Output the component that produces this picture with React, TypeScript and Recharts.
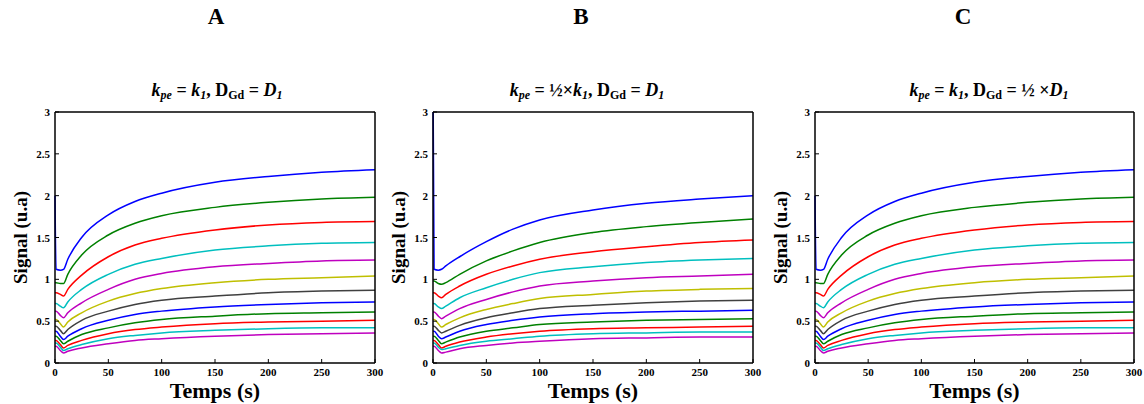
import React from "react"
import { Line, LineChart, XAxis, YAxis } from "recharts"

// time axis (s)
const times = [0, 1, 5, 8, 12, 25, 50, 75, 100, 150, 200, 250, 300]

// panel A (kpe = k1, DGd = D1)
const seriesA = [
  [2.0, 1.12, 1.11, 1.12, 1.24, 1.5, 1.77, 1.93, 2.03, 2.16, 2.23, 2.28, 2.31],
  [0.96, 0.96, 0.95, 0.95, 1.06, 1.29, 1.53, 1.67, 1.76, 1.86, 1.92, 1.96, 1.98],
  [0.84, 0.84, 0.82, 0.8, 0.88, 1.05, 1.27, 1.41, 1.49, 1.59, 1.65, 1.68, 1.69],
  [0.71, 0.71, 0.68, 0.66, 0.73, 0.88, 1.06, 1.18, 1.25, 1.35, 1.4, 1.43, 1.44],
  [0.62, 0.62, 0.57, 0.54, 0.6, 0.72, 0.88, 1.0, 1.07, 1.15, 1.19, 1.22, 1.23],
  [0.52, 0.52, 0.47, 0.43, 0.49, 0.6, 0.74, 0.83, 0.89, 0.96, 1.0, 1.02, 1.04],
  [0.44, 0.44, 0.39, 0.35, 0.4, 0.51, 0.62, 0.7, 0.75, 0.8, 0.84, 0.86, 0.87],
  [0.38, 0.38, 0.32, 0.28, 0.32, 0.41, 0.51, 0.58, 0.62, 0.67, 0.7, 0.72, 0.73],
  [0.32, 0.32, 0.27, 0.23, 0.26, 0.34, 0.42, 0.48, 0.52, 0.56, 0.59, 0.6, 0.61],
  [0.27, 0.27, 0.22, 0.18, 0.21, 0.27, 0.35, 0.4, 0.43, 0.47, 0.49, 0.5, 0.51],
  [0.24, 0.24, 0.19, 0.15, 0.17, 0.22, 0.29, 0.33, 0.36, 0.39, 0.41, 0.42, 0.42],
  [0.2, 0.2, 0.15, 0.12, 0.14, 0.18, 0.23, 0.27, 0.29, 0.32, 0.34, 0.35, 0.36],
]

// panel B (kpe = 1/2 k1)
const seriesB = [
  [3.4, 1.12, 1.11, 1.12, 1.16, 1.27, 1.45, 1.6, 1.71, 1.83, 1.91, 1.96, 2.0],
  [0.98, 0.98, 0.95, 0.94, 0.96, 1.06, 1.22, 1.34, 1.44, 1.56, 1.63, 1.68, 1.72],
  [0.84, 0.84, 0.8, 0.78, 0.82, 0.92, 1.06, 1.16, 1.24, 1.33, 1.39, 1.44, 1.47],
  [0.71, 0.71, 0.67, 0.65, 0.68, 0.78, 0.9, 1.0, 1.08, 1.15, 1.2, 1.23, 1.25],
  [0.61, 0.61, 0.56, 0.53, 0.56, 0.65, 0.76, 0.85, 0.92, 0.98, 1.02, 1.04, 1.06],
  [0.52, 0.52, 0.47, 0.43, 0.46, 0.54, 0.64, 0.71, 0.77, 0.82, 0.86, 0.88, 0.89],
  [0.44, 0.44, 0.39, 0.36, 0.38, 0.45, 0.54, 0.6, 0.65, 0.69, 0.72, 0.74, 0.75],
  [0.38, 0.38, 0.32, 0.29, 0.31, 0.38, 0.46, 0.51, 0.55, 0.59, 0.61, 0.62, 0.63],
  [0.32, 0.32, 0.27, 0.23, 0.25, 0.31, 0.38, 0.42, 0.46, 0.49, 0.51, 0.52, 0.53],
  [0.27, 0.27, 0.22, 0.18, 0.2, 0.25, 0.31, 0.35, 0.38, 0.41, 0.42, 0.43, 0.44],
  [0.24, 0.24, 0.19, 0.16, 0.17, 0.21, 0.26, 0.29, 0.32, 0.35, 0.36, 0.37, 0.37],
  [0.2, 0.2, 0.15, 0.12, 0.13, 0.17, 0.21, 0.24, 0.26, 0.29, 0.3, 0.31, 0.31],
]

// panel C (DGd = 1/2 D1) - same curves as A
const seriesC = seriesA

const colors = [
  "#0000ff", "#008000", "#ff0000", "#00bfbf", "#bf00bf", "#bfbf00",
  "#404040", "#0000ff", "#008000", "#ff0000", "#00bfbf", "#bf00bf",
]

const xTicks = [0, 50, 100, 150, 200, 250, 300]
const yTicks = [0, 0.5, 1, 1.5, 2, 2.5, 3]

const FONT = "'Liberation Serif', 'DejaVu Serif', serif"

const toRows = (series: number[][]) =>
  times.map((t, i) => {
    const row: Record<string, number> = { t }
    series.forEach((s, k) => (row[`s${k}`] = s[i]))
    return row
  })

const LeftTick = ({ x, y, payload }: any) => (
  <g>
    <text x={x} y={y} dy={4} textAnchor="end" fontFamily={FONT} fontWeight="bold" fontSize={11} fill="#000">
      {payload.value}
    </text>
    <line x1={x + 5} x2={x + 9} y1={y} y2={y} stroke="#000" strokeWidth={1} />
  </g>
)

const BottomTick = ({ x, y, payload }: any) => (
  <g>
    <text x={x} y={y} dy={10} textAnchor="middle" fontFamily={FONT} fontWeight="bold" fontSize={11} fill="#000">
      {payload.value}
    </text>
    <line x1={x} x2={x} y1={y - 3} y2={y - 7} stroke="#000" strokeWidth={1} />
  </g>
)

const RightTick = ({ x, y }: any) => <line x1={x - 4} x2={x} y1={y} y2={y} stroke="#000" strokeWidth={1} />

function Panel({ series, left, width }: { series: number[][]; left: number; width: number }) {
  return (
    <div style={{ position: "absolute", left, top: 100 }}>
      <LineChart width={width} height={304} data={toRows(series)} margin={{ top: 11, right: 14, bottom: 1, left: 10 }}>
        <XAxis
          xAxisId="b"
          dataKey="t"
          type="number"
          domain={[0, 300]}
          ticks={xTicks}
          height={40}
          tickSize={0}
          tickMargin={3}
          tickLine={false}
          tick={<BottomTick />}
          axisLine={{ stroke: "#000", strokeWidth: 1.5 }}
          label={{
            value: "Temps (s)",
            position: "insideBottom",
            offset: 5,
            style: { fontFamily: FONT, fontWeight: "bold", fontSize: 22, fill: "#000" },
          }}
        />
        <XAxis xAxisId="top" orientation="top" type="number" dataKey="t" domain={[0, 300]} height={1} tick={false} tickLine={false} axisLine={{ stroke: "#000", strokeWidth: 1.5 }} />
        <YAxis
          yAxisId="l"
          type="number"
          domain={[0, 3]}
          ticks={yTicks}
          allowDataOverflow
          width={45}
          tickSize={0}
          tickMargin={5}
          tickLine={false}
          tick={<LeftTick />}
          axisLine={{ stroke: "#000", strokeWidth: 1.5 }}
          label={{
            value: "Signal (u.a)",
            angle: -90,
            position: "insideLeft",
            offset: 10,
            style: { textAnchor: "middle", fontFamily: FONT, fontWeight: "bold", fontSize: 19, fill: "#000" },
          }}
        />
        <YAxis yAxisId="r" orientation="right" type="number" domain={[0, 3]} ticks={yTicks} width={1} tickSize={0} tickMargin={0} tickLine={false} tick={<RightTick />} axisLine={{ stroke: "#000", strokeWidth: 1.5 }} />
        {series.map((_, k) => (
          <Line
            key={k}
            xAxisId="b"
            yAxisId="l"
            type="monotone"
            dataKey={`s${k}`}
            stroke={colors[k]}
            strokeWidth={1.5}
            dot={false}
            isAnimationActive={false}
          />
        ))}
      </LineChart>
    </div>
  )
}

const titleStyle: React.CSSProperties = {
  position: "absolute",
  fontFamily: FONT,
  fontWeight: "bold",
  fontSize: 23,
  top: 4,
  transform: "translateX(-50%)",
}

const subStyle: React.CSSProperties = {
  position: "absolute",
  fontFamily: FONT,
  fontWeight: "bold",
  fontSize: 18,
  top: 80,
  whiteSpace: "nowrap",
  transform: "translateX(-50%)",
}

const sub: React.CSSProperties = { fontSize: 12, verticalAlign: "-3px", lineHeight: 0 }

const Kpe = () => (
  <>
    <i>k</i>
    <i style={sub}>pe</i>
  </>
)
const K1 = () => (
  <>
    <i>k</i>
    <i style={sub}>1</i>
  </>
)
const DGd = () => (
  <>
    D<span style={sub}>Gd</span>
  </>
)
const D1 = () => (
  <>
    <i>D</i>
    <i style={sub}>1</i>
  </>
)

export default function App() {
  return (
    <div style={{ position: "absolute", left: 0, top: 0, width: 1144, height: 404, background: "#fff", overflow: "hidden" }}>
      <div style={{ ...titleStyle, left: 216 }}>A</div>
      <div style={{ ...titleStyle, left: 581 }}>B</div>
      <div style={{ ...titleStyle, left: 963 }}>C</div>

      <div style={{ ...subStyle, left: 217 }}>
        <Kpe /> = <K1 />, <DGd /> = <D1 />
      </div>
      <div style={{ ...subStyle, left: 587 }}>
        <Kpe /> = ½×<K1 />, <DGd /> = <D1 />
      </div>
      <div style={{ ...subStyle, left: 989 }}>
        <Kpe /> = <K1 />, <DGd /> = ½ ×<D1 />
      </div>

      <Panel series={seriesA} left={0} width={390} />
      <Panel series={seriesB} left={378} width={390} />
      <Panel series={seriesC} left={760} width={389} />
    </div>
  )
}
